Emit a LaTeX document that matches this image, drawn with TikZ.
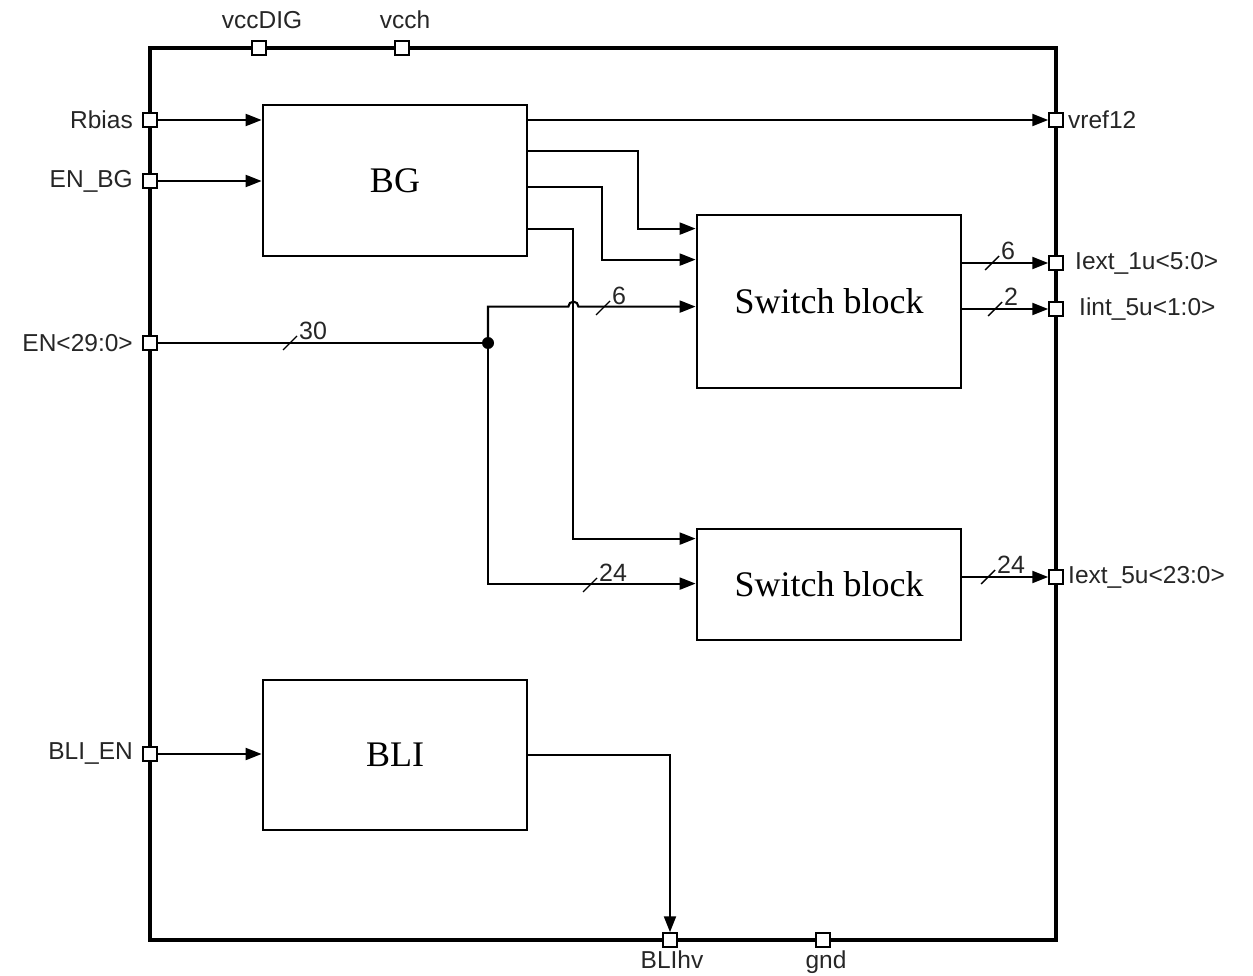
\documentclass[tikz,border=0pt]{standalone}
\usepackage{fontspec}
\setmainfont{Liberation Serif}
\setsansfont{Liberation Sans}
\usetikzlibrary{arrows.meta,calc}
\begin{document}
\begin{tikzpicture}[x=1pt,y=-1pt,
  wire/.style={line width=2.1pt},
  tip/.style={-{Triangle[length=16pt,width=12pt]}},
  blockbox/.style={draw,line width=2.8pt,inner sep=0pt,font=\fontsize{36}{40}\selectfont},
  pinbox/.style={draw,fill=white,line width=1.5pt,minimum size=14pt,inner sep=0pt},
  pinlabel/.style={inner sep=0pt,text=black!85,font=\sffamily\fontsize{24.5}{28}\selectfont},
  buslabel/.style={inner sep=0pt,text=black!85,font=\sffamily\fontsize{25}{28}\selectfont},
  bus/.pic={\draw[line width=1.4pt] (-7,7) -- (7,-7);
            \node[buslabel,anchor=south west] at (9,-3) {#1};}
]
\useasboundingbox (0,0) rectangle (1253,976);
% chip frame
\node[draw,line width=4.6pt,minimum width=906pt,minimum height=892pt,inner sep=0pt] (chip) at (603,494) {};
% blocks
\node[blockbox,minimum width=264pt,minimum height=151pt] (BG) at (395,180.5) {BG};
\node[blockbox,minimum width=264pt,minimum height=173pt] (SW1) at (829,301.5) {Switch block};
\node[blockbox,minimum width=264pt,minimum height=111pt] (SW2) at (829,584.5) {Switch block};
\node[blockbox,minimum width=264pt,minimum height=150pt] (BLI) at (395,755) {BLI};
% pins
\node[pinbox] (pvccDIG) at (259,48) {};
\node[pinbox] (pvcch) at (402,48) {};
\node[pinbox] (pRbias) at (150,120) {};
\node[pinbox] (pENBG) at (150,181) {};
\node[pinbox] (pEN) at (150,343) {};
\node[pinbox] (pBLIEN) at (150,754) {};
\node[pinbox] (pvref) at (1056,120) {};
\node[pinbox] (pI1) at (1056,263) {};
\node[pinbox] (pI2) at (1056,309) {};
\node[pinbox] (pI3) at (1056,577) {};
\node[pinbox] (pBLIhv) at (670,940) {};
\node[pinbox] (pgnd) at (823,940) {};
% pin labels
\node[pinlabel] (lvccDIG) at (262,20) {vccDIG};
\node[pinlabel] (lvcch) at (405,20) {vcch};
\node[pinlabel,anchor=east] (lRbias) at (133,120) {Rbias};
\node[pinlabel,anchor=east] (lENBG) at (133,181) {EN\_BG};
\node[pinlabel,anchor=east] (lEN) at (133,343) {EN<29:0>};
\node[pinlabel,anchor=east] (lBLIEN) at (133,754) {BLI\_EN};
\node[pinlabel,anchor=west] (lvref) at (1068,120) {vref12};
\node[pinlabel,anchor=west] (lI1) at (1075,263) {Iext\_1u<5:0>};
\node[pinlabel,anchor=west] (lI2) at (1079,309) {Iint\_5u<1:0>};
\node[pinlabel,anchor=west] (lI3) at (1068,577) {Iext\_5u<23:0>};
\node[pinlabel] (lBLIhv) at (672,960) {BLIhv};
\node[pinlabel] (lgnd) at (826,962) {gnd};
% helper coordinates
\coordinate (o1) at ($(BG.north east)+(0,47)$);
\coordinate (o2) at ($(BG.north east)+(0,83)$);
\coordinate (o3) at ($(BG.north east)+(0,125)$);
\coordinate (o0) at (BG.east |- pvref);
\coordinate (s1a) at ($(SW1.north west)+(0,15)$);
\coordinate (s1b) at ($(SW1.north west)+(0,46)$);
\coordinate (s1c) at ($(SW1.north west)+(0,93)$);
\coordinate (s2a) at ($(SW2.north west)+(0,11)$);
\coordinate (s2b) at ($(SW2.north west)+(0,56)$);
\coordinate (jn) at (488,343);
\coordinate (v3) at ($(o3)+(45,0)$);
% wires
\draw[wire,tip] (pRbias) -- (pRbias -| BG.west);
\draw[wire,tip] (pENBG) -- (pENBG -| BG.west);
\draw[wire,tip] (pBLIEN) -- (pBLIEN -| BLI.west);
\draw[wire,tip] (o0) -- (pvref);
\draw[wire,tip] (o1) -- ++(110,0) |- (s1a);
\draw[wire,tip] (o2) -- ++(74,0) |- (s1b);
\draw[wire,tip] (o3) -- (v3) |- (s2a);
\draw[wire] (pEN) -- (jn);
\draw[wire,tip] (jn) |- ($(v3 |- s1c)+(-5,0)$) arc[start angle=180,end angle=360,radius=5] -- (s1c);
\draw[wire,tip] (jn) |- (s2b);
\fill (jn) circle[radius=6];
\draw[wire,tip] (SW1.east |- pI1) -- (pI1);
\draw[wire,tip] (SW1.east |- pI2) -- (pI2);
\draw[wire,tip] (SW2.east |- pI3) -- (pI3);
\draw[wire,tip] (BLI.east) -| (pBLIhv);
% bus marks
\pic at (290,343) {bus=30};
\pic at (603,308) {bus=6};
\pic at (590,585) {bus=24};
\pic at (992,263) {bus=6};
\pic at (995,309) {bus=2};
\pic at (988,577) {bus=24};
\end{tikzpicture}
\end{document}
